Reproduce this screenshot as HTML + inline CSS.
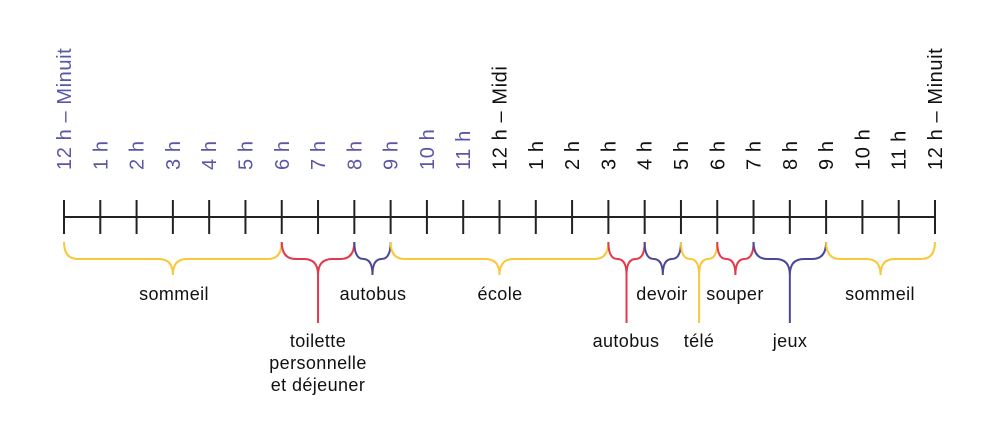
<!DOCTYPE html>
<html><head><style>
body{margin:0;background:#fff;}
svg{display:block;font-family:"Liberation Sans",sans-serif;}
</style></head><body>
<svg width="1000" height="447" viewBox="0 0 1000 447">
<g id="ticks" stroke="#222" stroke-width="2"></g>
<line x1="64" y1="217" x2="935" y2="217" stroke="#222" stroke-width="2"/>
<g id="labels" font-size="20" letter-spacing="0.6"></g>
<g id="braces" fill="none" stroke-width="2"></g>
<g font-size="18" fill="#111" text-anchor="middle" letter-spacing="0.4">
<text x="174" y="300">sommeil</text>
<text x="373" y="300">autobus</text>
<text x="500" y="300">école</text>
<text x="662" y="300">devoir</text>
<text x="735" y="300">souper</text>
<text x="880" y="300">sommeil</text>
<text x="318" y="347">toilette</text>
<text x="318" y="369">personnelle</text>
<text x="318" y="391">et déjeuner</text>
<text x="626" y="347">autobus</text>
<text x="699" y="347">télé</text>
<text x="790" y="347">jeux</text>
</g>
<script>
var ns="http://www.w3.org/2000/svg",s=871/24;
function X(i){return 64+i*s}
var t=document.getElementById("ticks"),l=document.getElementById("labels"),b=document.getElementById("braces");
var names=["12 h – Minuit","1 h","2 h","3 h","4 h","5 h","6 h","7 h","8 h","9 h","10 h","11 h","12 h – Midi","1 h","2 h","3 h","4 h","5 h","6 h","7 h","8 h","9 h","10 h","11 h","12 h – Minuit"];
for(var i=0;i<=24;i++){var x=X(i);var ln=document.createElementNS(ns,"line");ln.setAttribute("x1",x);ln.setAttribute("x2",x);ln.setAttribute("y1",200);ln.setAttribute("y2",234);t.appendChild(ln);
var tx=document.createElementNS(ns,"text");tx.textContent=names[i];tx.setAttribute("transform","translate("+(x+7)+",170) rotate(-90)");tx.setAttribute("fill",(i<12)?"#5b57a6":"#111");l.appendChild(tx);}
var Y="#f9c83a",R="#e23a4c",P="#4b4897";
var br=[[0,6,Y,0],[6,8,R,1],[8,9,P,0],[9,15,Y,0],[15,16,R,1],[16,17,P,0],[17,18,Y,1],[18,19,R,0],[19,21,P,1],[21,24,Y,0]];
br.forEach(function(c){var a=X(c[0]),e=X(c[1]),m=(a+e)/2,r=Math.min(14,(e-a)/4);
var d="M"+a+",242 Q"+a+",259 "+(a+r)+",259 L"+(m-r)+",259 Q"+m+",259 "+m+",275 Q"+m+",259 "+(m+r)+",259 L"+(e-r)+",259 Q"+e+",259 "+e+",242";
if(c[3])d+=" M"+m+",270 L"+m+",323";
var p=document.createElementNS(ns,"path");p.setAttribute("d",d);p.setAttribute("stroke",c[2]);b.appendChild(p);});
</script>
</svg>
</body></html>
